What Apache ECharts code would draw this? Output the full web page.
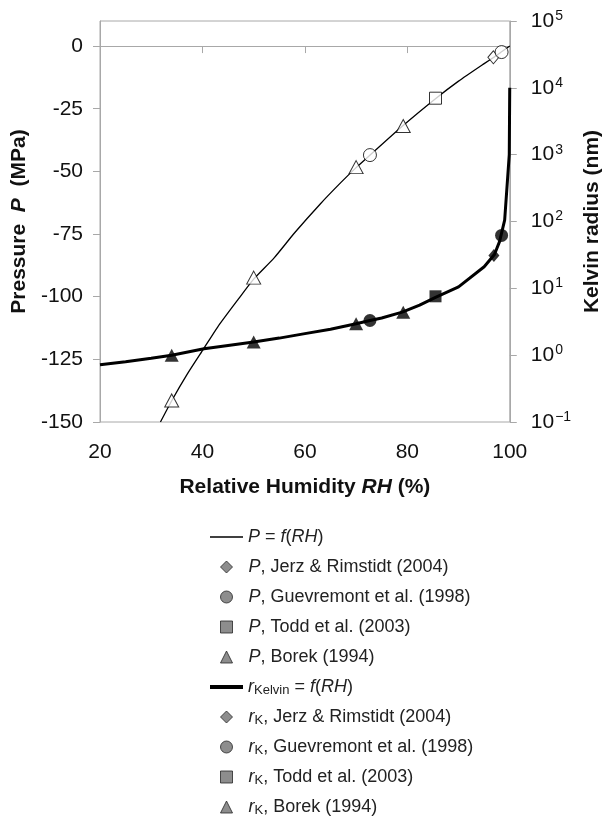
<!DOCTYPE html>
<html>
<head>
<meta charset="utf-8">
<script src="https://cdn.jsdelivr.net/npm/echarts@6/dist/echarts.min.js"></script>
<style>html,body{margin:0;padding:0;background:#fff;}#c{width:611px;height:827px;}</style>
</head>
<body>
<div id="c"></div>
<script>
// ---- data ----
const pCurveRH  = [31.8, 34, 37, 40, 43, 47, 50, 54, 58, 63, 67, 70, 73, 79, 85.5, 90, 95, 97, 98.4, 100];
const pCurveMPa = [-150, -141.5, -131, -121.5, -112, -101, -93, -84.5, -74.5, -63, -54.5, -48.5, -43, -32, -21, -14, -7, -4.3, -2.3, 0];

const kCurveRH = [20, 25, 30, 34, 40.3, 45, 50, 55, 60, 65, 70, 72.7, 75, 79, 82.4, 85.5, 90, 95, 97, 98, 99, 99.9, 99.99];
const kCurveNm = [0.72, 0.8, 0.9, 1.0, 1.25, 1.4, 1.57, 1.8, 2.1, 2.45, 2.95, 3.3, 3.6, 4.4, 5.6, 7.3, 10.5, 21, 32, 50, 105, 1000, 10000];

const jerzRH = [96.8];        const jerzP = [-4.5];          const jerzK = [31];
const guevRH = [72.7, 98.4];  const guevP = [-43.5, -2.4];   const guevK = [3.3, 62];
const toddRH = [85.5];        const toddP = [-20.8];         const toddK = [7.6];
const borekRH = [34, 50, 70, 79.2]; const borekP = [-141.4, -92.4, -48.3, -31.9]; const borekK = [1.0, 1.58, 2.95, 4.4];

const xTicks = [20, 40, 60, 80, 100];
const pTicks = [-150, -125, -100, -75, -50, -25, 0];

const pLineName = 'P = f(RH)';
const pMarkerNames = ['P, Jerz & Rimstidt (2004)', 'P, Guevremont et al. (1998)', 'P, Todd et al. (2003)', 'P, Borek (1994)'];
const kLineName = 'rKelvin = f(RH)';
const kMarkerNames = ['rK, Jerz & Rimstidt (2004)', 'rK, Guevremont et al. (1998)', 'rK, Todd et al. (2003)', 'rK, Borek (1994)'];
const markerSymbols = ['diamond', 'circle', 'rect', 'triangle'];

const zip = (a, b) => a.map((v, i) => [v, b[i]]);
const FONT = '"Liberation Sans", Arial, sans-serif';

function legendRich(name) {
  if (name === pLineName) return '{i|P}{n| = }{i|f}{n|(}{i|RH}{n|)}';
  if (name === kLineName) return '{i|r}{sub|Kelvin}{n| = }{i|f}{n|(}{i|RH}{n|)}';
  if (name.indexOf('rK, ') === 0) return '{i|r}{sub|K}{n|, ' + name.slice(4) + '}';
  if (name.indexOf('P, ') === 0) return '{i|P}{n|, ' + name.slice(3) + '}';
  return '{n|' + name + '}';
}

const richStyles = {
  n: {fontFamily: FONT, fontSize: 18, color: '#222', lineHeight: 20},
  i: {fontFamily: FONT, fontSize: 18, fontStyle: 'italic', color: '#222', lineHeight: 20},
  sub: {fontFamily: FONT, fontSize: 13, color: '#222', lineHeight: 10, verticalAlign: 'bottom'}
};

function makeLegend(names, top, isLine, lineH) {
  return {
    orient: 'vertical',
    left: isLine ? 205 : 215,
    top: top,
    height: 400,
    itemWidth: isLine ? 33 : 12,
    itemHeight: isLine ? lineH : 12,
    itemGap: 10,
    selectedMode: false,
    data: names.map((n, i) => isLine
      ? {name: n, icon: 'rect', itemStyle: {color: '#000', borderWidth: 0}}
      : {name: n, icon: markerSymbols[i], itemStyle: {color: '#707070', borderColor: '#262626', borderWidth: 1}}),
    formatter: legendRich,
    textStyle: {
      fontFamily: FONT, fontSize: 18, color: '#222', lineHeight: 20,
      padding: isLine ? [0, 0, 0, 0] : [0, 0, 0, 11],
      rich: richStyles
    }
  };
}

const chart = echarts.init(document.getElementById('c'), null, {renderer: 'canvas'});

const hollow = {color: '#fff', borderColor: '#000', borderWidth: 1};
const filled = {color: '#000', borderColor: '#000', borderWidth: 0};

const option = {
  animation: false,
  backgroundColor: '#fff',
  textStyle: {fontFamily: FONT},
  grid: {left: 100, right: 101, top: 21, bottom: 405, show: true, borderColor: '#a8a8a8', borderWidth: 1, backgroundColor: 'transparent'},
  xAxis: {
    type: 'value', min: 20, max: 100, interval: 20,
    name: '{b|Relative Humidity }{bi|RH}{b| (%)}',
    nameLocation: 'middle', nameGap: 55,
    nameTextStyle: {rich: {
      b: {fontFamily: FONT, fontSize: 21, fontWeight: 'bold', color: '#111'},
      bi: {fontFamily: FONT, fontSize: 21, fontWeight: 'bold', fontStyle: 'italic', color: '#111'}
    }},
    axisLine: {lineStyle: {color: '#a8a8a8', width: 1}},
    axisTick: {show: true, inside: false, length: 7, lineStyle: {color: '#a8a8a8'}},
    axisLabel: {fontFamily: FONT, fontSize: 21, color: '#111', margin: 20},
    splitLine: {show: false}
  },
  yAxis: [
    {
      type: 'value', min: -150, max: 10, position: 'left',
      name: '{b|Pressure  }{bi|P}{b|  (MPa)}',
      nameLocation: 'middle', nameGap: 67, nameRotate: 90,
      nameTextStyle: {rich: {
        b: {fontFamily: FONT, fontSize: 21, fontWeight: 'bold', color: '#111'},
        bi: {fontFamily: FONT, fontSize: 21, fontWeight: 'bold', fontStyle: 'italic', color: '#111'}
      }},
      axisLine: {show: true, lineStyle: {color: '#a8a8a8', width: 1}},
      axisTick: {show: true, inside: false, length: 7, lineStyle: {color: '#a8a8a8'}, customValues: pTicks},
      axisLabel: {fontFamily: FONT, fontSize: 21, color: '#111', margin: 17, customValues: pTicks},
      splitLine: {show: false}
    },
    {
      type: 'log', logBase: 10, min: 0.1, max: 100000, splitNumber: 6, position: 'right',
      name: 'Kelvin radius (nm)',
      nameLocation: 'middle', nameGap: 70, nameRotate: 90,
      nameTextStyle: {fontFamily: FONT, fontSize: 21, fontWeight: 'bold', color: '#111'},
      axisLine: {show: true, lineStyle: {color: '#a8a8a8', width: 1}},
      axisTick: {show: true, inside: false, length: 7, lineStyle: {color: '#a8a8a8'}},
      axisLabel: {
        margin: 21,
        formatter: function (v) {
          const e = Math.round(Math.log10(v));
          return '{b|10}{s|' + (e < 0 ? '\u2212' + (-e) : e) + '}';
        },
        rich: {
          b: {fontFamily: FONT, fontSize: 21, color: '#111'},
          s: {fontFamily: FONT, fontSize: 14, color: '#111', verticalAlign: 'top', padding: [0, 0, 10, 1]}
        }
      },
      splitLine: {show: false}
    }
  ],
  legend: [
    makeLegend([pLineName], 522, true, 1.3),
    makeLegend(pMarkerNames, 552, false),
    makeLegend([kLineName], 672, true, 4),
    makeLegend(kMarkerNames, 702, false)
  ],
  series: [
    {name: pLineName, type: 'line', yAxisIndex: 0, data: zip(pCurveRH, pCurveMPa), symbol: 'none', smooth: 0.2,
     lineStyle: {color: '#000', width: 1.3}, itemStyle: {color: '#000'}, z: 2},
    {name: pMarkerNames[0], type: 'scatter', yAxisIndex: 0, data: zip(jerzRH, jerzP), symbol: 'diamond', symbolSize: [11, 13], itemStyle: hollow, z: 5},
    {name: pMarkerNames[1], type: 'scatter', yAxisIndex: 0, data: zip(guevRH, guevP), symbol: 'circle', symbolSize: 13, itemStyle: hollow, z: 5},
    {name: pMarkerNames[2], type: 'scatter', yAxisIndex: 0, data: zip(toddRH, toddP), symbol: 'rect', symbolSize: 12, itemStyle: hollow, z: 5},
    {name: pMarkerNames[3], type: 'scatter', yAxisIndex: 0, data: zip(borekRH, borekP), symbol: 'triangle', symbolSize: [14, 13], itemStyle: hollow, z: 5},
    {name: kLineName, type: 'line', yAxisIndex: 1, data: zip(kCurveRH, kCurveNm), symbol: 'none', smooth: false,
     lineStyle: {color: '#000', width: 3}, itemStyle: {color: '#000'}, z: 3},
    {name: kMarkerNames[0], type: 'scatter', yAxisIndex: 1, data: zip(jerzRH.map(v => v + 0.1), jerzK), symbol: 'diamond', symbolSize: [11, 13], itemStyle: filled, z: 6},
    {name: kMarkerNames[1], type: 'scatter', yAxisIndex: 1, data: zip(guevRH, guevK), symbol: 'circle', symbolSize: 13, itemStyle: filled, z: 6},
    {name: kMarkerNames[2], type: 'scatter', yAxisIndex: 1, data: zip(toddRH, toddK), symbol: 'rect', symbolSize: 12, itemStyle: filled, z: 6},
    {name: kMarkerNames[3], type: 'scatter', yAxisIndex: 1, data: zip(borekRH, borekK), symbol: 'triangle', symbolSize: [14, 13], itemStyle: filled, z: 6}
  ]
};
chart.setOption(option);
</script>
</body>
</html>
